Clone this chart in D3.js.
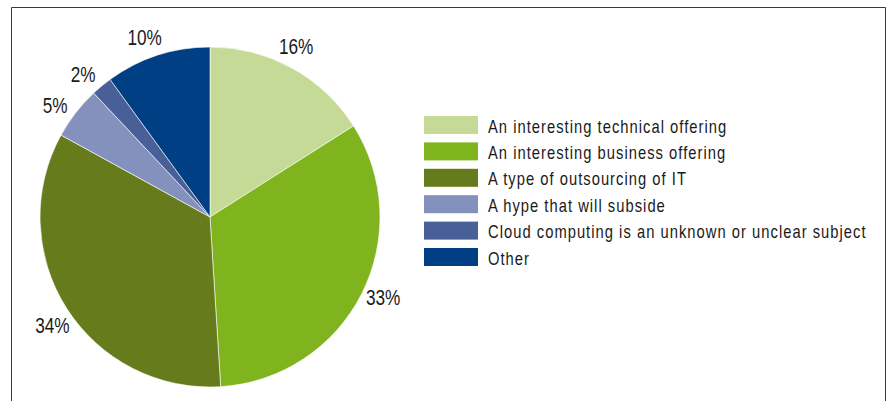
<!DOCTYPE html>
<html>
<head>
<meta charset="utf-8">
<script src="https://cdn.jsdelivr.net/npm/d3@7"></script>
<style>
  html, body { margin: 0; padding: 0; background: #fff; }
  svg { display: block; font-family: "Liberation Sans", Arial, sans-serif; }
</style>
</head>
<body>
<svg id="chart" width="890" height="401"></svg>
<script>
// Survey answers: what cloud computing is seen as
const categories = [
  "An interesting technical offering",
  "An interesting business offering",
  "A type of outsourcing of IT",
  "A hype that will subside",
  "Cloud computing is an unknown or unclear subject",
  "Other"
];
const shares = [16, 33, 34, 5, 2, 10];
const colors = ["#c4da96", "#80b41e", "#667c1c", "#8391bc", "#485f98", "#003f84"];

const svg = d3.select("#chart");

// Narrow type: regular sans squeezed horizontally
const narrow = 0.8;

// Frame: top, left and right edges
svg.append("path")
  .attr("d", "M11.5,401 V7.5 H885.5 V401")
  .attr("fill", "none")
  .attr("stroke", "#3a3a3a")
  .attr("stroke-width", 1);

const cx = 210, cy = 217, radius = 170;

const data = categories.map((c, i) => ({ label: c, value: shares[i], color: colors[i] }));

const pie = d3.pie().sort(null).value(d => d.value);
const arc = d3.arc().innerRadius(0).outerRadius(radius);

const g = svg.append("g").attr("transform", `translate(${cx},${cy})`);
const arcs = pie(data);

g.selectAll("path.slice")
  .data(arcs)
  .join("path")
  .attr("class", "slice")
  .attr("d", arc)
  .attr("fill", d => d.data.color)
  .attr("stroke", "#ffffff")
  .attr("stroke-width", 0.6);

// Percent labels sit just outside the rim, a touch counter-clockwise of each slice's middle
const labelR = 191, labelTurn = -2 * Math.PI / 180;
function labelPos(d) {
  const a = (d.startAngle + d.endAngle) / 2 + labelTurn;
  return [labelR * Math.sin(a), -labelR * Math.cos(a)];
}

g.selectAll("text.pct")
  .data(arcs)
  .join("text")
  .attr("class", "pct")
  .attr("transform", d => `translate(${labelPos(d)}) scale(${narrow},1)`)
  .attr("text-anchor", "middle")
  .attr("dy", "0.36em")
  .attr("font-size", 21.5)
  .attr("fill", "#1a1a1a")
  .text(d => d.data.value + "%");

// Legend
const legend = svg.append("g").attr("transform", "translate(424,116)");
const rowH = 26.4;
const rows = legend.selectAll("g.row")
  .data(data)
  .join("g")
  .attr("class", "row")
  .attr("transform", (d, i) => `translate(0,${i * rowH})`);

rows.append("rect")
  .attr("width", 54)
  .attr("height", 18)
  .attr("fill", d => d.color);

rows.append("text")
  .attr("transform", `translate(64,16.5) scale(0.82,1)`)
  .attr("font-size", 18)
  .attr("letter-spacing", 1.25)
  .attr("fill", "#1a1a1a")
  .text(d => d.label);
</script>
</body>
</html>
